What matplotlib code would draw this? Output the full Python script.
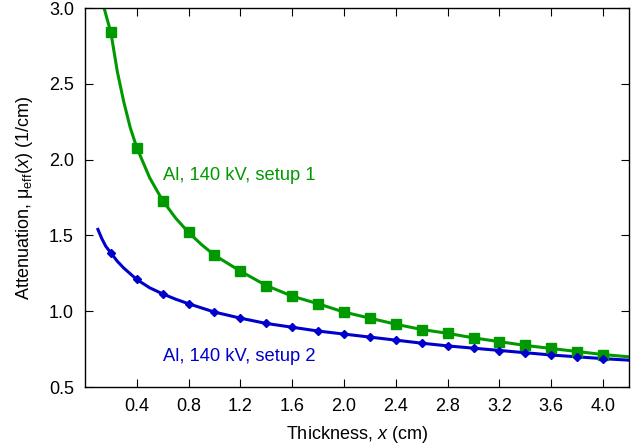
import matplotlib.pyplot as plt
import numpy as np

plt.rcParams["font.family"] = ["Liberation Sans", "DejaVu Sans"]
plt.rcParams["mathtext.fontset"] = "custom"
plt.rcParams["mathtext.rm"] = "Liberation Sans"
plt.rcParams["mathtext.it"] = "Liberation Sans:italic"

GREEN = "#009900"
BLUE = "#0000cc"

# measured points
thickness = [0.2, 0.4, 0.6, 0.8, 1.0, 1.2, 1.4, 1.6, 1.8, 2.0,
             2.2, 2.4, 2.6, 2.8, 3.0, 3.2, 3.4, 3.6, 3.8, 4.0]
mu_setup1 = [2.84, 2.08, 1.73, 1.52, 1.37, 1.265, 1.17, 1.10, 1.05, 0.995,
             0.955, 0.915, 0.88, 0.855, 0.825, 0.80, 0.775, 0.755, 0.735, 0.71]
mu_setup2 = [1.385, 1.21, 1.115, 1.05, 0.995, 0.955, 0.92, 0.895, 0.87, 0.85,
             0.83, 0.81, 0.79, 0.77, 0.757, 0.74, 0.725, 0.71, 0.70, 0.685]

# fitted curves
fit1_x = [0.148, 0.17, 0.2, 0.25, 0.3, 0.35, 0.4, 0.5, 0.6, 0.7, 0.8, 0.9, 1.0,
          1.2, 1.4, 1.6, 1.8, 2.0, 2.2, 2.4, 2.6, 2.8, 3.0, 3.2, 3.4, 3.6,
          3.8, 4.0, 4.2]
fit1_y = [3.0, 2.93, 2.84, 2.58, 2.38, 2.21, 2.08, 1.88, 1.73, 1.615, 1.52,
          1.44, 1.37, 1.265, 1.17, 1.10, 1.05, 0.995, 0.955, 0.915, 0.88,
          0.855, 0.825, 0.80, 0.775, 0.755, 0.735, 0.715, 0.70]
fit2_x = [0.10, 0.13, 0.16, 0.2, 0.25, 0.3, 0.4, 0.5, 0.6, 0.7, 0.8, 1.0,
          1.2, 1.4, 1.6, 1.8, 2.0, 2.2, 2.4, 2.6, 2.8, 3.0, 3.2, 3.4, 3.6,
          3.8, 4.0, 4.2]
fit2_y = [1.54, 1.48, 1.43, 1.385, 1.33, 1.285, 1.21, 1.155, 1.115, 1.08,
          1.05, 0.995, 0.955, 0.92, 0.895, 0.87, 0.85, 0.83, 0.81, 0.79,
          0.772, 0.757, 0.742, 0.727, 0.712, 0.70, 0.688, 0.678]

fig = plt.figure(figsize=(6.34, 4.45), dpi=100)
ax = fig.add_axes([0.134, 0.130, 0.858, 0.852])

ax.plot(fit1_x, fit1_y, color=GREEN, linewidth=2.2, zorder=2)
ax.plot(thickness, mu_setup1, "s", color=GREEN, markersize=7, zorder=3)
ax.plot(fit2_x, fit2_y, color=BLUE, linewidth=2.2, zorder=2)
ax.plot(thickness, mu_setup2, "D", color=BLUE, markersize=4.5, zorder=3)

ax.text(0.6, 1.895, "Al, 140 kV, setup 1", color=GREEN, fontsize=13.2, va="center")
ax.text(0.6, 0.705, "Al, 140 kV, setup 2", color=BLUE, fontsize=13.2, va="center")

ax.set_xlim(0, 4.2)
ax.set_ylim(0.5, 3.0)
ax.set_xticks(np.arange(0.4, 4.01, 0.4))
ax.set_yticks(np.arange(0.5, 3.01, 0.5))
ax.xaxis.set_major_formatter(plt.FormatStrFormatter("%.1f"))
ax.yaxis.set_major_formatter(plt.FormatStrFormatter("%.1f"))
ax.tick_params(direction="in", top=True, right=True, length=6, labelsize=13, pad=8)
for s in ax.spines.values():
    s.set_linewidth(1.0)

ax.set_xlabel(r"Thickness, $\mathit{x}$ (cm)", fontsize=13, labelpad=6)
ax.set_ylabel(r"Attenuation, μ$_\mathregular{eff}$($\mathit{x}$) (1/cm)",
              fontsize=13, labelpad=10)

fig.savefig("out.png", dpi=100)
